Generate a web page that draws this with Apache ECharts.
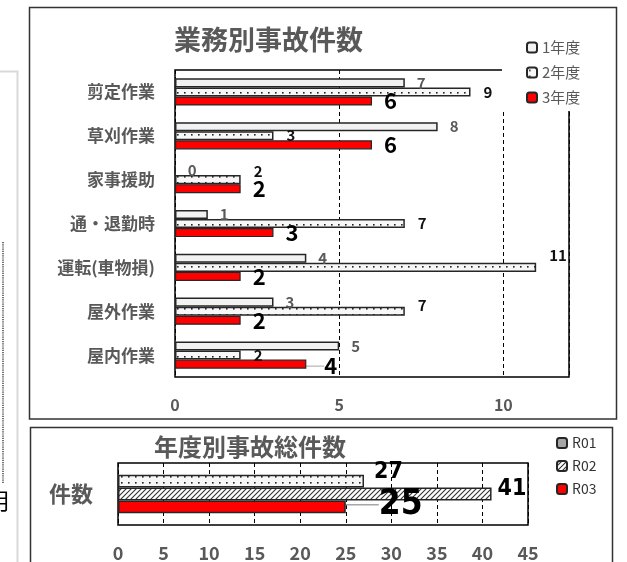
<!DOCTYPE html>
<html><head><meta charset="utf-8">
<script src="https://cdn.jsdelivr.net/npm/echarts@6/dist/echarts.min.js"></script>
<style>html,body{margin:0;padding:0;background:#fff;}#c{width:627px;height:562px;}</style>
</head><body><div id="c"></div>
<script>
// ---- data ----
const categories = ['剪定作業','草刈作業','家事援助','通・退勤時','運転(車物損)','屋外作業','屋内作業'];
const seriesNames = ['1年度','2年度','3年度'];
const fy1 = [7, 8, 0, 1, 4, 3, 5];
const fy2 = [9, 3, 2, 7, 11, 7, 2];
const fy3 = [6, 6, 2, 3, 2, 2, 4];
const xTicksTop = [0, 5, 10];
const totalCategory = ['件数'];
const totalNames = ['R01','R02','R03'];
const totalR01 = [27];
const totalR02 = [41];
const totalR03 = [25];
const xTicksBottom = [0,5,10,15,20,25,30,35,40,45];

// ---- styles ----
const GRAY = '#595959';
const FONT = "'Noto Sans CJK JP','Noto Sans',sans-serif";
const NARROW = "'Liberation Sans Narrow','DejaVu Sans Condensed','Liberation Sans',sans-serif";

function dotPattern(){
  const c = document.createElement('canvas'); c.width = 7; c.height = 6;
  const g = c.getContext('2d');
  g.fillStyle = '#f7f7f7'; g.fillRect(0,0,7,6);
  g.fillStyle = '#222';
  g.fillRect(2,2,1.6,1.6);
  return {image: c, repeat: 'repeat'};
}
function hatchPattern(){
  const c = document.createElement('canvas'); c.width = 5; c.height = 5;
  const g = c.getContext('2d');
  g.fillStyle = '#ffffff'; g.fillRect(0,0,5,5);
  g.strokeStyle = '#333'; g.lineWidth = 1.1;
  g.beginPath();
  g.moveTo(-1,6); g.lineTo(6,-1);
  g.moveTo(-1,1); g.lineTo(1,-1);
  g.moveTo(4,6); g.lineTo(6,4);
  g.stroke();
  return {image: c, repeat: 'repeat'};
}
const DOTS = dotPattern();
const HATCH = hatchPattern();

// per-item label nudges (presentation only)
const fy2LabelOffsets = {2: [0,-8], 4: [0,-12], 5: [0,-6]};

const chart = echarts.init(document.getElementById('c'));
const option = {
  animation: false,
  textStyle: {fontFamily: FONT},
  title: [
    {text: '業務別事故件数', left: 174, top: 26, padding: 0,
     textStyle: {fontSize: 27, fontWeight: 'bold', color: GRAY, fontFamily: FONT}},
    {text: '年度別事故総件数', left: 154, top: 435, padding: 0,
     textStyle: {fontSize: 24, fontWeight: 'bold', color: GRAY, fontFamily: FONT}}
  ],
  legend: [
    {data: seriesNames, orient: 'vertical', left: 502, top: 34, padding: [6,10,6,24],
     backgroundColor: '#fff', itemWidth: 10, itemHeight: 10, itemGap: 10,
     textStyle: {fontSize: 15, color: GRAY, lineHeight: 14, fontFamily: FONT}, selectedMode: false},
    {data: [{name: 'R01', itemStyle: {color: '#a6a6a6'}}, {name: 'R02'}, {name: 'R03'}],
     orient: 'vertical', left: 556, top: 436, padding: [0,0,0,0],
     itemWidth: 10, itemHeight: 10, itemGap: 9,
     textStyle: {fontSize: 14, color: '#333', lineHeight: 14, fontFamily: FONT}, selectedMode: false}
  ],
  grid: [
    {left: 175, top: 70, width: 394, height: 307, show: true, borderColor: '#000', borderWidth: 1.5},
    {left: 118, top: 463, width: 410, height: 63, show: true, borderColor: '#000', borderWidth: 1.5}
  ],
  xAxis: [
    {gridIndex: 0, type: 'value', min: 0, max: 12, interval: 5,
     axisLine: {show: false}, axisTick: {show: false},
     splitLine: {show: true, lineStyle: {type: [4,3], color: '#000', width: 1}},
     axisLabel: {margin: 20, fontSize: 16, fontWeight: 'bold', color: GRAY, fontFamily: FONT,
       formatter: v => xTicksTop.includes(v) ? String(v) : ''}},
    {gridIndex: 1, type: 'value', min: 0, max: 45, interval: 5,
     axisLine: {show: false}, axisTick: {show: false},
     splitLine: {show: true, lineStyle: {type: [4,3], color: '#000', width: 1}},
     axisLabel: {margin: 19, fontSize: 18, fontWeight: 'bold', color: GRAY, fontFamily: FONT,
       formatter: v => xTicksBottom.includes(v) ? String(v) : ''}}
  ],
  yAxis: [
    {gridIndex: 0, type: 'category', data: categories, inverse: true,
     axisLine: {show: false}, axisTick: {show: false},
     axisLabel: {margin: 20, fontSize: 17, fontWeight: 'bold', color: GRAY, fontFamily: FONT}},
    {gridIndex: 1, type: 'category', data: totalCategory, inverse: true,
     axisLine: {show: false}, axisTick: {show: false},
     axisLabel: {margin: 25, fontSize: 22, fontWeight: 'bold', color: GRAY, fontFamily: FONT}}
  ],
  series: [
    {name: '1年度', type: 'bar', xAxisIndex: 0, yAxisIndex: 0, data: fy1,
     barGap: '0%', barCategoryGap: '38%',
     itemStyle: {color: '#f2f2f2', borderColor: '#262626', borderWidth: 1.5},
     label: {show: true, position: 'right', distance: 12, fontSize: 15, fontWeight: 'bold', color: GRAY, fontFamily: FONT},
     emphasis: {disabled: true}},
    {name: '2年度', type: 'bar', xAxisIndex: 0, yAxisIndex: 0,
     data: fy2.map((v,i) => fy2LabelOffsets[i] ? {value: v, label: {offset: fy2LabelOffsets[i]}} : v),
     barGap: '0%', barCategoryGap: '38%',
     itemStyle: {color: DOTS, borderColor: '#262626', borderWidth: 1.5},
     label: {show: true, position: 'right', distance: 13, fontSize: 15, fontWeight: 'bold', color: '#111', fontFamily: FONT},
     emphasis: {disabled: true}},
    {name: '3年度', type: 'bar', xAxisIndex: 0, yAxisIndex: 0,
     data: fy3.map((v,i) => i === 6 ? {value: v, labelLine: {show: true, lineStyle: {color: '#a6a6a6', width: 1}}} : v),
     barGap: '0%', barCategoryGap: '38%',
     itemStyle: {color: '#ff0000', borderColor: '#262626', borderWidth: 1.2},
     label: {show: true, position: 'right', distance: 12, offset: [0, 4], fontSize: 22, fontWeight: 'bold', color: '#000', fontFamily: FONT},
     labelLayout: p => p.dataIndex === 6 ? {dx: 6, dy: 2} : {},
     emphasis: {disabled: true}},

    {name: 'R01', type: 'bar', xAxisIndex: 1, yAxisIndex: 1, data: totalR01,
     barGap: '0%', barCategoryGap: '38%',
     itemStyle: {color: DOTS, borderColor: '#262626', borderWidth: 1.5},
     label: {show: true, position: 'right', distance: 10, offset: [0, -9], fontSize: 23, fontWeight: 'bold', color: '#000', fontFamily: NARROW},
     emphasis: {disabled: true}},
    {name: 'R02', type: 'bar', xAxisIndex: 1, yAxisIndex: 1, data: totalR02,
     barGap: '0%', barCategoryGap: '38%',
     itemStyle: {color: HATCH, borderColor: '#262626', borderWidth: 1.5},
     label: {show: true, position: 'right', distance: 6, offset: [0, -5], fontSize: 23, fontWeight: 'bold', color: '#000', fontFamily: NARROW},
     emphasis: {disabled: true}},
    {name: 'R03', type: 'bar', xAxisIndex: 1, yAxisIndex: 1, data: totalR03,
     barGap: '0%', barCategoryGap: '38%',
     itemStyle: {color: '#ff0000', borderColor: '#262626', borderWidth: 1.5},
     label: {show: true, position: 'right', distance: 6, fontSize: 35, fontWeight: 'bold', color: '#000', fontFamily: NARROW},
     labelLayout: {dx: 27, dy: -2},
     labelLine: {show: true, smooth: 0.3, lineStyle: {color: '#a6a6a6', width: 1.5}},
     emphasis: {disabled: true}}
  ],
  graphic: [
    {type: 'rect', silent: true, z: 100, shape: {x: 29.5, y: 7.5, width: 587, height: 411.5},
     style: {fill: 'none', stroke: '#333', lineWidth: 1.5}},
    {type: 'rect', silent: true, z: 100, shape: {x: 30.5, y: 427.5, width: 582, height: 150},
     style: {fill: 'none', stroke: '#333', lineWidth: 1.5}},
    {type: 'polyline', silent: true, shape: {points: [[0, 71.5], [17.5, 71.5], [17.5, 562]]},
     style: {fill: 'none', stroke: '#d9d9d9', lineWidth: 2}},
    {type: 'line', silent: true, shape: {x1: 3, y1: 242, x2: 3, y2: 483},
     style: {stroke: '#444', lineWidth: 1.5, lineDash: [1.2, 1]}},
    {type: 'text', silent: true, style: {text: '月', x: -11, y: 501, fontSize: 22, fontFamily: FONT,
     fill: '#000', verticalAlign: 'middle'}}
  ]
};
chart.setOption(option);
</script>
</body></html>
